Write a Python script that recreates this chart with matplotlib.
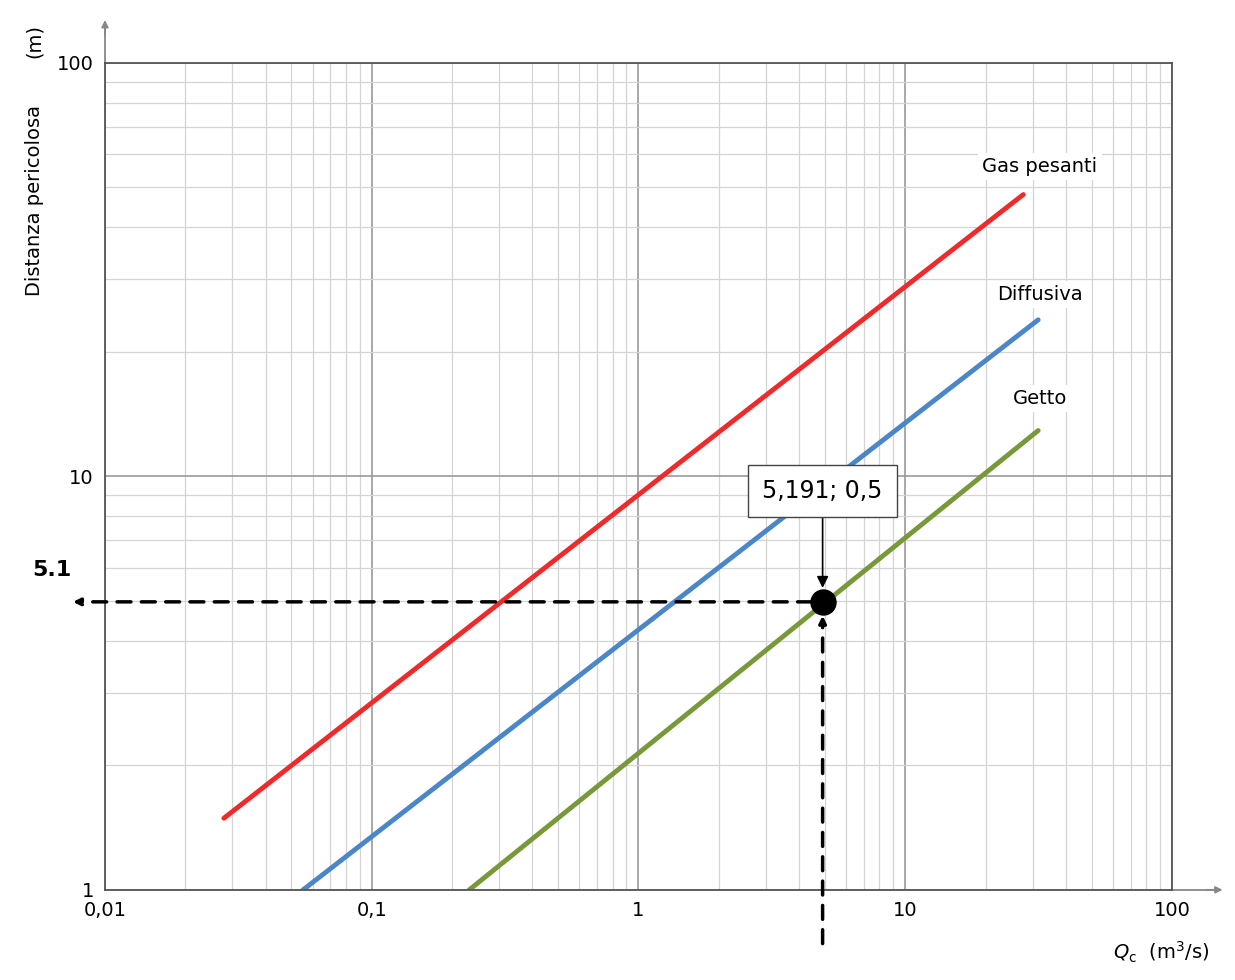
import matplotlib
matplotlib.use("Agg")
import matplotlib.pyplot as plt
import numpy as np
from matplotlib.ticker import LogLocator, NullFormatter, FixedLocator

series_names = ["Gas pesanti", "Diffusiva", "Getto"]
series_colors = ["#ee2a2a", "#4a86c8", "#77993a"]
series_x = [[0.0279, 27.7], [0.0553, 31.5], [0.232, 31.5]]
series_y = [[1.49, 48.0], [1.0, 23.9], [1.0, 12.9]]
label_pos = [(32, 56), (32, 27.5), (32, 15.4)]
point = (4.9, 4.97)
point_label = "5,191; 0,5"
read_value = "5.1"
xticks = [0.01, 0.1, 1, 10, 100]
xticklabels = ["0,01", "0,1", "1", "10", "100"]
yticks = [1, 10, 100]
yticklabels = ["1", "10", "100"]

fig = plt.figure(figsize=(12.35, 9.8), dpi=100)
ax = fig.add_axes([0.085, 0.092, 0.864, 0.844])
ax.set_xscale("log"); ax.set_yscale("log")
ax.set_xlim(0.01, 100); ax.set_ylim(1, 100)
ax.xaxis.set_major_locator(FixedLocator(xticks))
ax.yaxis.set_major_locator(FixedLocator(yticks))
ax.set_xticklabels(xticklabels, fontsize=14)
ax.set_yticklabels(yticklabels, fontsize=14)
ax.xaxis.set_minor_locator(LogLocator(subs=np.arange(2, 10)))
ax.yaxis.set_minor_locator(LogLocator(subs=np.arange(2, 10)))
ax.xaxis.set_minor_formatter(NullFormatter()); ax.yaxis.set_minor_formatter(NullFormatter())
ax.grid(which="major", color="#999999", lw=1.2)
ax.grid(which="minor", color="#d4d4d4", lw=0.9)
ax.tick_params(which="both", length=0, pad=8)
for s in ax.spines.values():
    s.set_color("#555555"); s.set_linewidth(1.3)

for n, c, xs, ys, lp in zip(series_names, series_colors, series_x, series_y, label_pos):
    ax.plot(xs, ys, color=c, lw=3.5, solid_capstyle="round")
    ax.text(lp[0], lp[1], n, fontsize=14, ha="center", va="center",
            bbox=dict(facecolor="white", edgecolor="none", pad=3))

# axis arrows
ax.plot([1, 1.04], [0, 0], transform=ax.transAxes, color="#888888", lw=1.3, clip_on=False)
ax.annotate("", xy=(1.05, 0), xytext=(1.03, 0), xycoords="axes fraction",
            arrowprops=dict(arrowstyle="-|>", color="#888888", lw=1.3), annotation_clip=False)
ax.plot([0, 0], [1, 1.045], transform=ax.transAxes, color="#888888", lw=1.3, clip_on=False)
ax.annotate("", xy=(0, 1.055), xytext=(0, 1.03), xycoords="axes fraction",
            arrowprops=dict(arrowstyle="-|>", color="#888888", lw=1.3), annotation_clip=False)

# point and dashed guides
ax.plot(*point, "o", color="black", ms=18, zorder=10, clip_on=False)
ax.annotate("", xy=(-0.03, point[1]), xytext=point, xycoords=("axes fraction", "data"), textcoords="data",
            arrowprops=dict(arrowstyle="-|>", color="black", lw=2.5, linestyle=(0, (4, 3)), shrinkB=0, shrinkA=8),
            annotation_clip=False)
ax.annotate("", xy=point, xytext=(point[0], -0.065), xycoords="data",
            textcoords=("data", "axes fraction"), annotation_clip=False,
            arrowprops=dict(arrowstyle="-|>", color="black", lw=2.5, linestyle=(0, (4, 3)),
                            shrinkA=0, shrinkB=10))
fig.text(0.042, 0.418, read_value, fontsize=16, fontweight="bold", ha="center", va="center")

ax.annotate(point_label, xy=point, xytext=(point[0], 9.2), fontsize=17, family="DejaVu Sans",
            ha="center", va="center",
            bbox=dict(boxstyle="square,pad=0.6", facecolor="white", edgecolor="#444444"),
            arrowprops=dict(arrowstyle="-|>", color="black", lw=1.2, shrinkA=0, shrinkB=10))

fig.text(0.028, 0.795, "Distanza pericolosa", rotation=90, fontsize=14, ha="center", va="center")
fig.text(0.028, 0.958, "(m)", rotation=90, fontsize=14, ha="center", va="center")
fig.text(0.94, 0.028, r"$Q_\mathrm{c}$  (m$^3$/s)", fontsize=14, ha="center", va="center")

fig.savefig("out.png", dpi=100)
